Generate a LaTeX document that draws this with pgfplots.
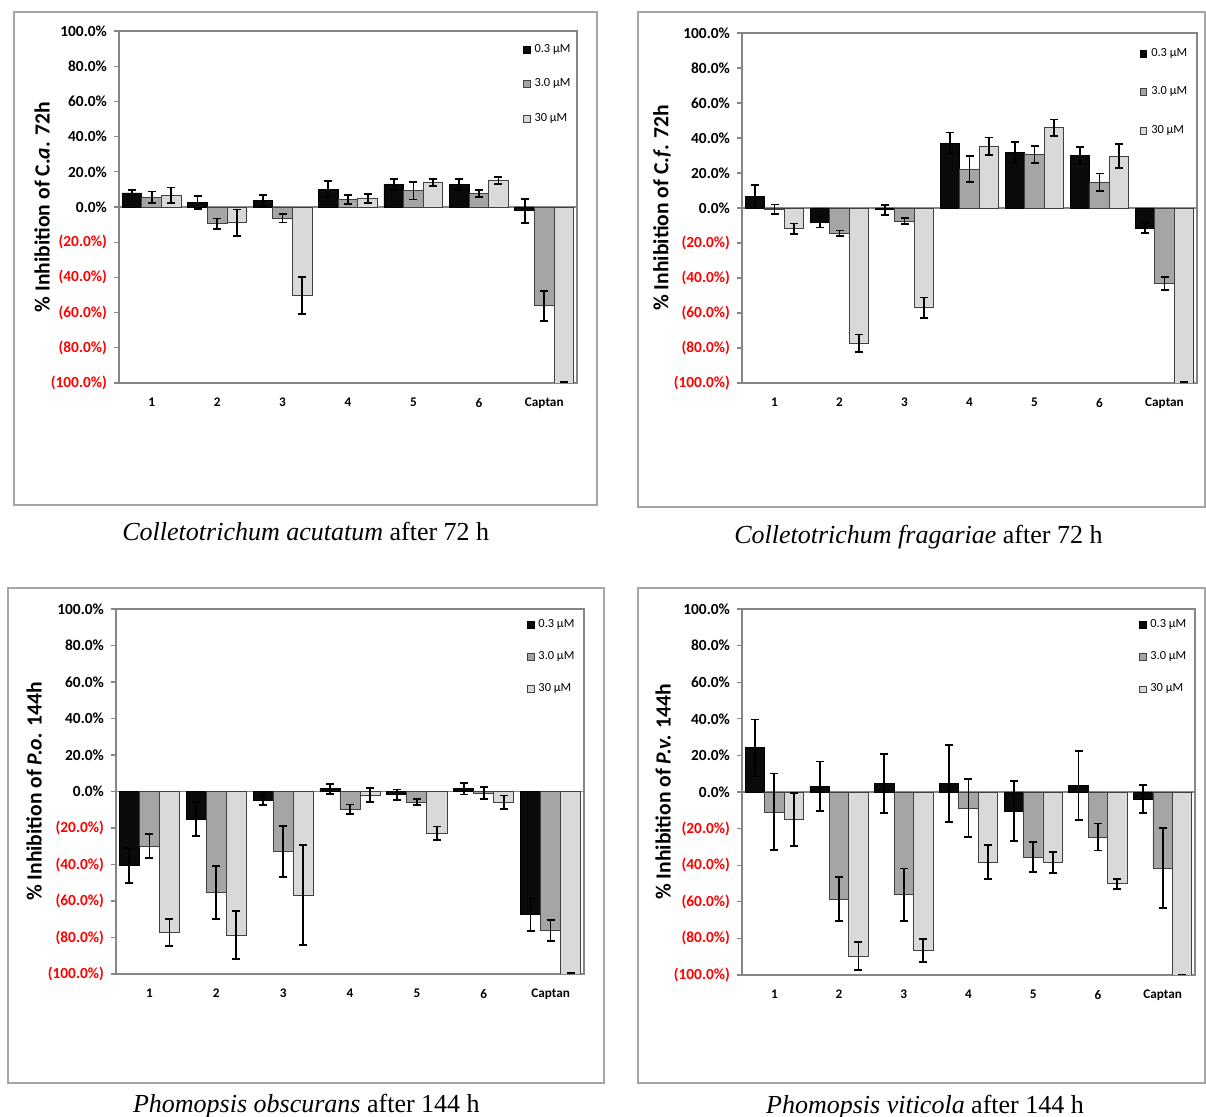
\documentclass[border=0pt]{standalone}
\usepackage{fontspec}
\setmainfont{Liberation Serif}
\newfontfamily\carlito{Carlito}
\usepackage{pgfplots}
\usepackage{pgfplotstable}
\pgfplotsset{compat=1.18}
\definecolor{barK}{HTML}{0A0A0A}
\definecolor{barG}{HTML}{A5A5A5}
\definecolor{barL}{HTML}{D9D9D9}
\definecolor{edge}{HTML}{404040}
\definecolor{axisgray}{HTML}{868686}
\definecolor{framegray}{HTML}{A6A6A6}

\pgfplotstableread{
x a ea b eb c ec
0 8.0 1.5 5.5 3.3 6.6 4.5
1 2.5 3.6 -9.5 3.0 -8.9 7.5
2 3.8 3.2 -6.5 2.3 -50.1 10.5
3 10.1 4.7 4.4 2.5 4.9 2.5
4 12.7 3.1 9.3 5.0 13.9 2.0
5 12.7 3.2 7.8 2.0 15.0 2.0
6 -2.1 6.8 -56.2 8.5 -100 0.4
}\tabCa
\pgfplotstableread{
x a ea b eb c ec
0 6.8 6.5 -0.8 2.8 -11.8 2.9
1 -8.2 2.9 -14.4 1.5 -77.4 5.1
2 -1.0 2.8 -7.4 1.9 -57.0 5.8
3 37.1 6.0 22.2 7.5 35.4 4.9
4 31.6 6.0 30.4 4.8 45.8 4.8
5 29.8 4.9 14.8 4.9 29.7 6.8
6 -11.4 3.0 -43.2 3.8 -100 0.4
}\tabCf
\pgfplotstableread{
x a ea b eb c ec
0 -40.6 9.5 -30.0 6.6 -77.1 7.4
1 -15.2 9.3 -55.4 14.4 -78.6 13.2
2 -4.8 2.8 -32.9 14.0 -56.7 27.2
3 1.5 2.8 -9.7 2.6 -2.0 3.8
4 -1.8 2.9 -5.8 1.7 -23.0 3.8
5 1.5 3.1 -0.9 3.2 -5.9 3.7
6 -67.6 9.0 -76.0 5.8 -100 0.4
}\tabPo
\pgfplotstableread{
x a ea b eb c ec
0 24.2 15.4 -10.9 21.0 -15.1 14.6
1 3.1 13.6 -58.5 11.9 -89.6 7.8
2 4.6 16.3 -56.1 14.3 -86.5 6.2
3 4.6 20.9 -8.9 15.8 -38.4 9.3
4 -10.4 16.5 -35.5 8.3 -38.4 5.7
5 3.6 18.9 -24.6 7.4 -50.1 2.7
6 -4.0 7.6 -41.5 21.9 -100 0
}\tabPv

\newcommand\neglab[1]{\textcolor{red}{(#1\%)}}
\pgfplotsset{
  sq legend/.style={legend image code/.code={\draw[##1,line width=0.4pt] (0pt,-1.7pt) rectangle (3.4pt,1.7pt);}},
  errs/.style={error bars/.cd, y dir=both, y explicit,
    error bar style={line width=0.9pt, black},
    error mark options={rotate=90, mark size=2pt, line width=0.9pt, black}},
  panel/.style={
    scale only axis,
    ybar, bar width=0.3,
    xmin=-0.5, xmax=6.5, ymin=-100, ymax=100,
    xtick={0,...,6}, xticklabels={1,2,3,4,5,6,Captan},
    xtick style={draw=none},
    xticklabel style={font=\carlito\bfseries\fontsize{6.6}{7}\selectfont, yshift=-1.5pt},
    ytick={-100,-80,...,100},
    yticklabels={{\neglab{100.0}},{\neglab{80.0}},{\neglab{60.0}},{\neglab{40.0}},{\neglab{20.0}},0.0\%,20.0\%,40.0\%,60.0\%,80.0\%,100.0\%},
    yticklabel style={font=\carlito\bfseries\fontsize{7.7}{8}\selectfont},
    ytick pos=left, tick align=outside,
    major tick length=2.5pt,
    ytick style={axisgray, line width=0.6pt},
    axis line style={axisgray, line width=0.6pt},
    extra y ticks={0}, extra y tick labels={},
    extra y tick style={grid=major, major grid style={axisgray, line width=0.6pt}, major tick length=0pt},
    ylabel style={font=\carlito\bfseries\fontsize{10.8}{12}\selectfont, anchor=center},
    legend cell align=left,
    legend style={draw=none, fill=none, inner sep=0pt, outer sep=0pt,
      font=\carlito\fontsize{6.2}{7}\selectfont, anchor=north west},
  },
  sK/.style={fill=barK, draw=black, line width=0.4pt, bar shift=-0.3, sq legend, errs},
  sG/.style={fill=barG, draw=edge, line width=0.4pt, bar shift=0, sq legend, errs},
  sL/.style={fill=barL, draw=edge, line width=0.4pt, bar shift=0.3, sq legend, errs},
}

\begin{document}
\begin{tikzpicture}
\useasboundingbox (0,0) rectangle (603pt,558.5pt);
\fill[white] (0,0) rectangle (603pt,558.5pt);
% frames
\draw[framegray, line width=0.75pt] (7pt,306pt) rectangle (298.5pt,552.5pt);
\draw[framegray, line width=0.75pt] (319pt,305pt) rectangle (602.6pt,552.5pt);
\draw[framegray, line width=0.75pt] (4pt,17pt) rectangle (302pt,264.5pt);
\draw[framegray, line width=0.75pt] (319pt,17pt) rectangle (602.6pt,264.5pt);

% Panel 1
\begin{axis}[panel, at={(59.5pt,367pt)}, anchor=south west, width=229pt, height=176pt,
  ylabel={\% Inhibition of C.\textit{a}. 72h},
  ylabel style={at={(axis description cs:-0.168,0.5)}},
  legend style={at={(rel axis cs:0.882,1)}, yshift=-4.5pt, row sep=7.8pt}]
\addplot[sK] table[x=x, y=a, y error=ea]{\tabCa};
\addplot[sG] table[x=x, y=b, y error=eb]{\tabCa};
\addplot[sL] table[x=x, y=c, y error=ec]{\tabCa};
\legend{0.3 µM, 3.0 µM, 30 µM}
\end{axis}

% Panel 2
\begin{axis}[panel, at={(371pt,367pt)}, anchor=south west, width=227.5pt, height=175pt,
  ylabel={\% Inhibition of C.\textit{f}. 72h},
  ylabel style={at={(axis description cs:-0.176,0.5)}},
  legend style={at={(rel axis cs:0.874,1)}, yshift=-5.5pt, row sep=9.8pt}]
\addplot[sK] table[x=x, y=a, y error=ea]{\tabCf};
\addplot[sG] table[x=x, y=b, y error=eb]{\tabCf};
\addplot[sL] table[x=x, y=c, y error=ec]{\tabCf};
\legend{0.3 µM, 3.0 µM, 30 µM}
\end{axis}

% Panel 3
\begin{axis}[panel, at={(58pt,71.5pt)}, anchor=south west, width=234pt, height=182.5pt,
  ylabel={\% Inhibition of \textit{P.o.} 144h},
  ylabel style={at={(axis description cs:-0.175,0.5)}},
  legend style={at={(rel axis cs:0.878,1)}, yshift=-3pt, row sep=6.5pt}]
\addplot[sK] table[x=x, y=a, y error=ea]{\tabPo};
\addplot[sG] table[x=x, y=b, y error=eb]{\tabPo};
\addplot[sL] table[x=x, y=c, y error=ec]{\tabPo};
\legend{0.3 µM, 3.0 µM, 30 µM}
\end{axis}

% Panel 4
\begin{axis}[panel, at={(371pt,71pt)}, anchor=south west, width=226.5pt, height=183pt,
  ylabel={\% Inhibition of \textit{P.v.} 144h},
  ylabel style={at={(axis description cs:-0.174,0.5)}},
  legend style={at={(rel axis cs:0.876,1)}, yshift=-3pt, row sep=6.7pt}]
\addplot[sK] table[x=x, y=a, y error=ea]{\tabPv};
\addplot[sG] table[x=x, y=b, y error=eb]{\tabPv};
\addplot[sL] table[x=x, y=c, y error=ec]{\tabPv};
\legend{0.3 µM, 3.0 µM, 30 µM}
\end{axis}

% captions
\node[anchor=base] at (152.9pt,288.3pt) {\fontsize{13}{15}\selectfont\textit{Colletotrichum acutatum} after 72 h};
\node[anchor=base] at (459.2pt,286.8pt) {\fontsize{13}{15}\selectfont\textit{Colletotrichum fragariae} after 72 h};
\node[anchor=base] at (153.2pt,2.1pt) {\fontsize{13}{15}\selectfont\textit{Phomopsis obscurans} after 144 h};
\node[anchor=base] at (462.5pt,1.7pt) {\fontsize{13}{15}\selectfont\textit{Phomopsis viticola} after 144 h};
\end{tikzpicture}
\end{document}
